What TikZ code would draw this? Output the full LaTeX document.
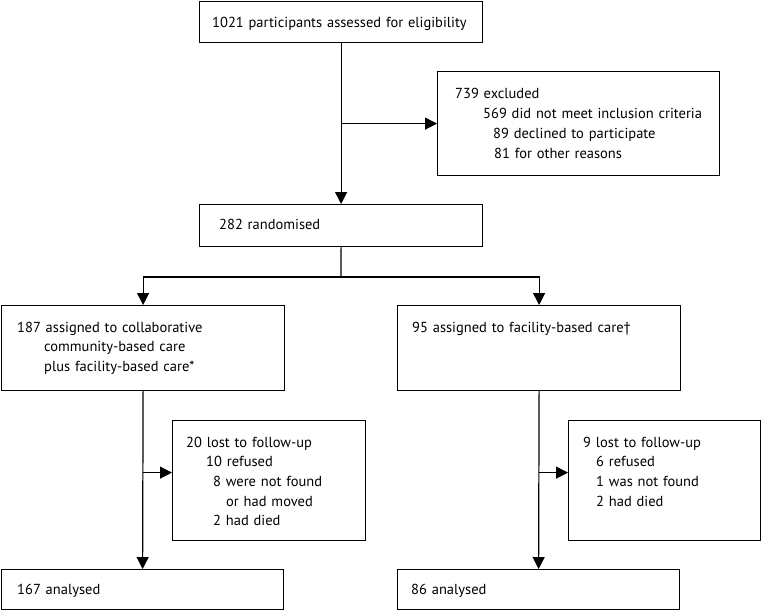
\documentclass[tikz,border=0pt]{standalone}
\usepackage{fontspec}
\setmainfont{PT Sans}
\usetikzlibrary{arrows.meta}
\begin{document}
\begin{tikzpicture}[x=1pt,y=-1pt,
  box/.style={draw, line width=1.2pt, rectangle, inner sep=0pt, anchor=north west},
  txt/.style={inner sep=0pt, anchor=base west, align=left, text width=320pt,
    font=\fontsize{14.5}{19.8}\selectfont},
  line/.style={line width=1.2pt},
  conn/.style={line width=1.2pt, -{Triangle[length=12pt,width=12pt]}}]
\useasboundingbox (0,0) rectangle (762,611);
% boxes
\node[box, minimum width=283pt, minimum height=41pt] (b1) at (199,1) {};
\node[box, minimum width=282pt, minimum height=104pt] (excl) at (437,71) {};
\node[box, minimum width=283pt, minimum height=42pt] (rand) at (199,204) {};
\node[box, minimum width=283pt, minimum height=85pt] (l1) at (1,305) {};
\node[box, minimum width=283pt, minimum height=85pt] (r1) at (397,305) {};
\node[box, minimum width=193pt, minimum height=120pt] (lostl) at (172,420) {};
\node[box, minimum width=192pt, minimum height=120pt] (lostr) at (568,420) {};
\node[box, minimum width=282pt, minimum height=40pt] (l3) at (1,569) {};
\node[box, minimum width=282pt, minimum height=40pt] (r3) at (397,569) {};
% texts
\node[txt] (t1) at (212,27) {1021 participants assessed for eligibility};
\node[txt, font=\fontsize{14.5}{20.3}\selectfont] (texcl) at (455,98) {739 excluded\\
  \hspace*{28pt}569 did not meet inclusion criteria\\
  \hspace*{38pt}89 declined to participate\\
  \hspace*{39pt}81 for other reasons};
\node[txt] (trand) at (219,229) {282 randomised};
\node[txt, font=\fontsize{14.5}{19.5}\selectfont] (tl1) at (17,332) {187 assigned to collaborative\\
  \hspace*{27pt}community-based care\\
  \hspace*{27pt}plus facility-based care*};
\node[txt] (tr1) at (412,332) {95 assigned to facility-based care†};
\node[txt, font=\fontsize{14.5}{19.7}\selectfont] (tlostl) at (186,447) {20 lost to follow-up\\
  \hspace*{20pt}10 refused\\
  \hspace*{27pt}8 were not found\\
  \hspace*{40pt}or had moved\\
  \hspace*{27pt}2 had died};
\node[txt, font=\fontsize{14.5}{19.7}\selectfont] (tlostr) at (583,447) {9 lost to follow-up\\
  \hspace*{13pt}6 refused\\
  \hspace*{13pt}1 was not found\\
  \hspace*{13pt}2 had died};
\node[txt] (tl3) at (17,594) {167 analysed};
\node[txt] (tr3) at (411,594) {86 analysed};
% connectors
\draw[conn] (b1.south) -- (rand.north);
\draw[conn] (b1.south |- excl.west) -- (excl.west);
\coordinate (split) at (341,277);
\draw[line] (rand.south) -- (split);
\draw[conn] (split) -| (l1.north);
\draw[conn] (split) -| (r1.north);
\draw[conn] (l1.south) -- (l3.north);
\draw[conn] (r1.south) -- (r3.north);
\coordinate (inl) at ([yshift=8pt]lostl.west);
\coordinate (inr) at ([yshift=8pt]lostr.west);
\draw[conn] (l1.south |- inl) -- (inl);
\draw[conn] (r1.south |- inr) -- (inr);
\end{tikzpicture}
\end{document}
